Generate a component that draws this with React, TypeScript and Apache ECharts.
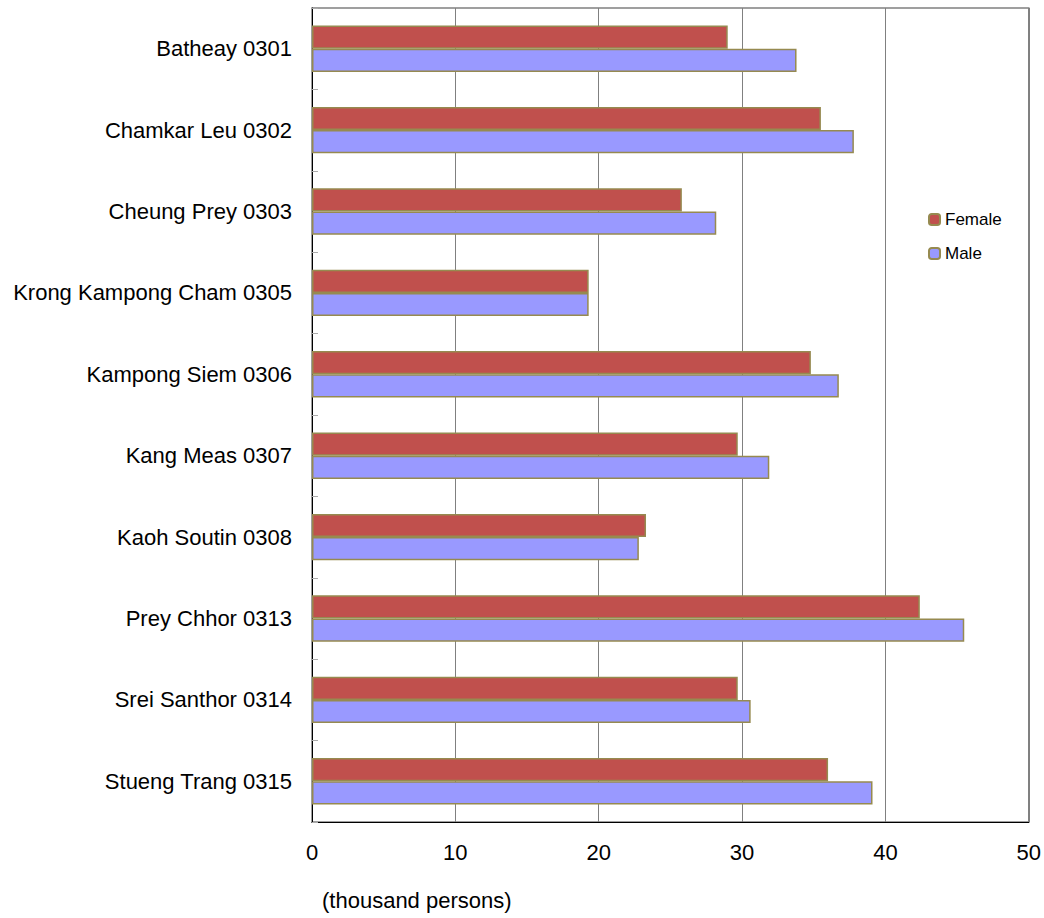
import React, { useEffect, useRef } from "react";
import * as echarts from "echarts";

const categories = [
  "Batheay 0301",
  "Chamkar Leu 0302",
  "Cheung Prey 0303",
  "Krong Kampong Cham 0305",
  "Kampong Siem 0306",
  "Kang Meas 0307",
  "Kaoh Soutin 0308",
  "Prey Chhor 0313",
  "Srei Santhor 0314",
  "Stueng Trang 0315",
];
const female = [29.0, 35.5, 25.8, 19.3, 34.8, 29.7, 23.3, 42.4, 29.7, 36.0];
const male = [33.8, 37.8, 28.2, 19.3, 36.75, 31.9, 22.8, 45.5, 30.6, 39.1];
const xTicks = { min: 0, max: 50, interval: 10 };
const axisName = "(thousand persons)";

const FONT = "'Liberation Sans', Arial, sans-serif";

export default function App() {
  const ref = useRef<HTMLDivElement>(null);
  useEffect(() => {
    if (!ref.current) return;
    const chart = echarts.init(ref.current, null, { renderer: "svg" });
    chart.setOption({
      animation: false,
      backgroundColor: "#ffffff",
      textStyle: { fontFamily: FONT },
      grid: {
        left: 312,
        right: 15,
        top: 8,
        bottom: 96,
        show: true,
        borderColor: "#808080",
        borderWidth: 1.5,
      },
      legend: {
        orient: "vertical",
        left: 923,
        top: 206,
        itemWidth: 11,
        itemHeight: 11,
        itemGap: 17,
        textStyle: { fontSize: 17, color: "#000", fontFamily: FONT },
        data: ["Female", "Male"],
      },
      xAxis: {
        type: "value",
        min: xTicks.min,
        max: xTicks.max,
        interval: xTicks.interval,
        axisLine: { show: true, lineStyle: { color: "#000", width: 1 } },
        axisTick: { show: false },
        axisLabel: { color: "#000", fontSize: 22, margin: 19, fontFamily: FONT },
        splitLine: { show: true, lineStyle: { color: "#808080", width: 1 } },
      },
      yAxis: {
        type: "category",
        data: categories,
        inverse: true,
        axisLine: { show: true, lineStyle: { color: "#000", width: 1 } },
        axisTick: { show: true, inside: true, length: 6, lineStyle: { color: "#aaaaaa" } },
        axisLabel: { color: "#000", fontSize: 22, margin: 20, fontFamily: FONT },
        splitLine: { show: false },
      },
      graphic: [
        {
          type: "text",
          left: 322,
          top: 889,
          style: { text: axisName, fontSize: 22, fill: "#000", fontFamily: FONT },
        },
      ],
      series: [
        {
          name: "Female",
          type: "bar",
          data: female,
          barGap: "0%",
          barCategoryGap: "43%",
          itemStyle: { color: "#C0504D", borderColor: "#968A50", borderWidth: 1.5 },
        },
        {
          name: "Male",
          type: "bar",
          data: male,
          barGap: "0%",
          barCategoryGap: "43%",
          itemStyle: { color: "#9999FF", borderColor: "#968A50", borderWidth: 1.5 },
        },
      ],
    });
    return () => chart.dispose();
  }, []);
  return (
    <div
      ref={ref}
      style={{ position: "fixed", left: 0, top: 0, width: 1044, height: 918 }}
    />
  );
}
